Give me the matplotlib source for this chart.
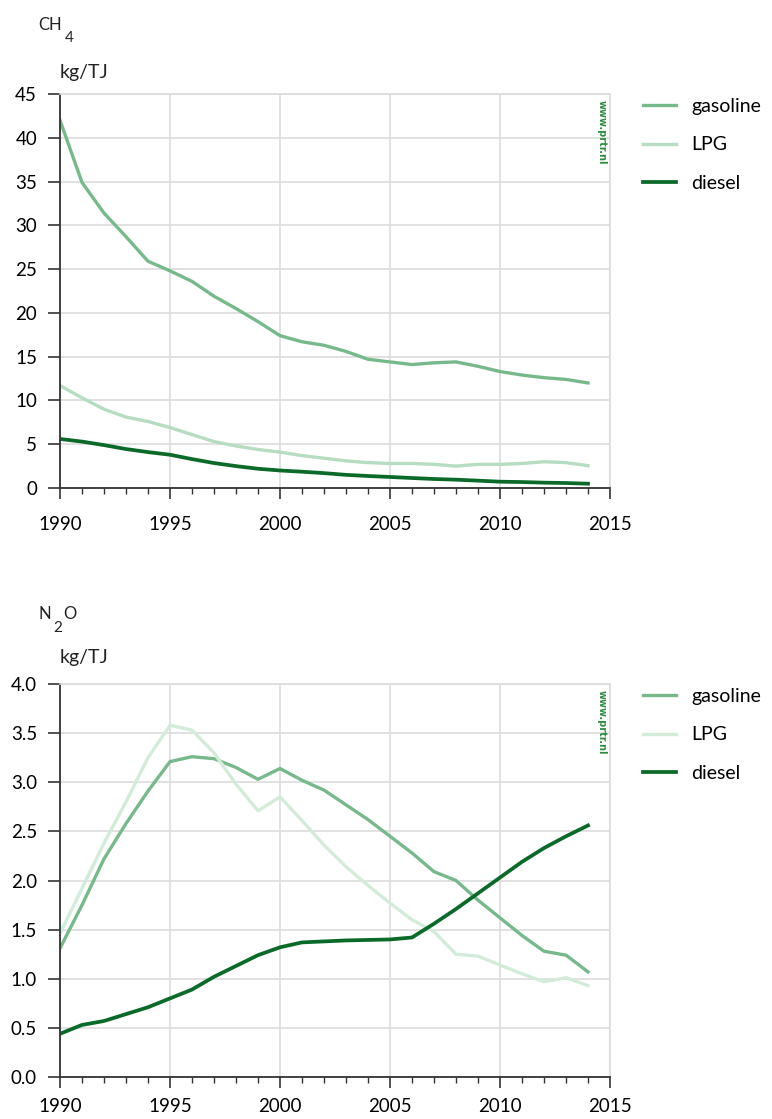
import matplotlib.pyplot as plt
from matplotlib.ticker import MultipleLocator, FormatStrFormatter

plt.rcParams['font.family'] = ['Lato', 'DejaVu Sans']

years = list(range(1990, 2015))

# CH4 emission factors, kg/TJ
ch4_gasoline = [42.0, 34.9, 31.4, 28.7, 25.9, 24.8, 23.6, 21.9, 20.5, 19.0,
                17.4, 16.7, 16.3, 15.6, 14.7, 14.4, 14.1, 14.3, 14.4, 13.9,
                13.3, 12.9, 12.6, 12.4, 12.0]
ch4_lpg = [11.7, 10.3, 9.0, 8.1, 7.6, 6.9, 6.1, 5.3, 4.8, 4.4,
           4.1, 3.7, 3.4, 3.1, 2.9, 2.8, 2.8, 2.7, 2.5, 2.7,
           2.7, 2.8, 3.0, 2.9, 2.55]
ch4_diesel = [5.6, 5.3, 4.9, 4.45, 4.1, 3.8, 3.3, 2.85, 2.5, 2.2,
              2.0, 1.86, 1.7, 1.5, 1.37, 1.26, 1.14, 1.03, 0.95, 0.84,
              0.72, 0.68, 0.61, 0.57, 0.49]

# N2O emission factors, kg/TJ
n2o_gasoline = [1.31, 1.75, 2.22, 2.58, 2.91, 3.21, 3.26, 3.24, 3.15, 3.03,
                3.14, 3.02, 2.92, 2.77, 2.62, 2.45, 2.28, 2.09, 2.00, 1.80,
                1.62, 1.44, 1.28, 1.24, 1.07]
n2o_lpg = [1.46, 1.92, 2.38, 2.80, 3.25, 3.58, 3.53, 3.30, 2.98, 2.71,
           2.85, 2.61, 2.36, 2.14, 1.95, 1.77, 1.60, 1.48, 1.25, 1.23,
           1.14, 1.05, 0.97, 1.01, 0.93]
n2o_diesel = [0.44, 0.53, 0.57, 0.64, 0.71, 0.80, 0.89, 1.02, 1.13, 1.24,
              1.32, 1.37, 1.38, 1.39, 1.395, 1.40, 1.42, 1.56, 1.71, 1.87,
              2.03, 2.19, 2.33, 2.45, 2.56]

fuel_labels = ['gasoline', 'LPG', 'diesel']

GASOLINE_COLOR = '#78b98b'
DIESEL_COLOR = '#0b6a2a'
GRID_COLOR = '#dcdcdc'
AXIS_COLOR = '#333333'
WATERMARK_COLOR = '#2d8a3e'

W, H = 772, 1119


def style_axes(ax, ymax, ystep, fmt, xpad):
    ax.set_xlim(1990, 2015)
    ax.set_ylim(0, ymax)
    ax.xaxis.set_major_locator(MultipleLocator(5))
    ax.xaxis.set_minor_locator(MultipleLocator(1))
    ax.yaxis.set_major_locator(MultipleLocator(ystep))
    ax.yaxis.set_major_formatter(FormatStrFormatter(fmt))
    ax.grid(True, which='major', color=GRID_COLOR, lw=1.2)
    ax.set_axisbelow(True)
    for side in ['top', 'right']:
        ax.spines[side].set_color(GRID_COLOR)
        ax.spines[side].set_linewidth(1.2)
    for side in ['left', 'bottom']:
        ax.spines[side].set_color(AXIS_COLOR)
        ax.spines[side].set_linewidth(1.3)
    ax.tick_params(axis='x', which='major', length=8, width=1.2, color=AXIS_COLOR,
                   labelsize=13.5, pad=xpad)
    ax.tick_params(axis='x', which='minor', length=4.5, width=1.0, color=AXIS_COLOR)
    ax.tick_params(axis='y', which='major', length=9, width=1.2, color=AXIS_COLOR,
                   labelsize=13.5, pad=7.5)


def add_legend(ax, lines, top_px):
    ax.legend(lines, fuel_labels, loc='upper left',
              bbox_to_anchor=(643 / W, 1 - top_px / H), bbox_transform=fig.transFigure,
              frameon=False, fontsize=14, handlelength=1.7, handletextpad=0.8,
              labelspacing=1.1, borderpad=0, borderaxespad=0)


def add_watermark(ax):
    ax.text(0.985, 0.985, 'www.prtr.nl', transform=ax.transAxes, rotation=270,
            ha='center', va='top', fontsize=7, fontweight='bold',
            color=WATERMARK_COLOR, family=['DejaVu Sans'])


fig = plt.figure(figsize=(W / 100, H / 100), dpi=100)

# CH4 panel
ax1 = fig.add_axes([60 / W, 1 - 488 / H, 550 / W, 394 / H])
l1, = ax1.plot(years, ch4_gasoline, color=GASOLINE_COLOR, lw=2.4)
l2, = ax1.plot(years, ch4_lpg, color='#b6dcc1', lw=2.4)
l3, = ax1.plot(years, ch4_diesel, color=DIESEL_COLOR, lw=2.7)
style_axes(ax1, 45, 5, '%d', 12)
add_legend(ax1, [l1, l2, l3], 98)
add_watermark(ax1)

# N2O panel
ax2 = fig.add_axes([60 / W, 1 - 1077 / H, 550 / W, 393 / H])
m1, = ax2.plot(years, n2o_gasoline, color=GASOLINE_COLOR, lw=2.4)
m2, = ax2.plot(years, n2o_lpg, color='#d3ecd9', lw=2.4)
m3, = ax2.plot(years, n2o_diesel, color=DIESEL_COLOR, lw=2.7)
style_axes(ax2, 4.0, 0.5, '%.1f', 7)
add_legend(ax2, [m1, m2, m3], 688)
add_watermark(ax2)


# panel titles with hand-placed subscripts
def fig_text(x, y, s, size):
    fig.text(x / W, 1 - y / H, s, fontsize=size, ha='left', va='baseline',
             color='#222222')


fig_text(38, 30, 'CH', 12)
fig_text(65, 42, '4', 11)
fig_text(60, 78, 'kg/TJ', 14)

fig_text(38, 619, 'N', 12)
fig_text(53, 632, '2', 11)
fig_text(63, 619, 'O', 12)
fig_text(60, 663, 'kg/TJ', 14)

fig.savefig('out.png', dpi=100)
